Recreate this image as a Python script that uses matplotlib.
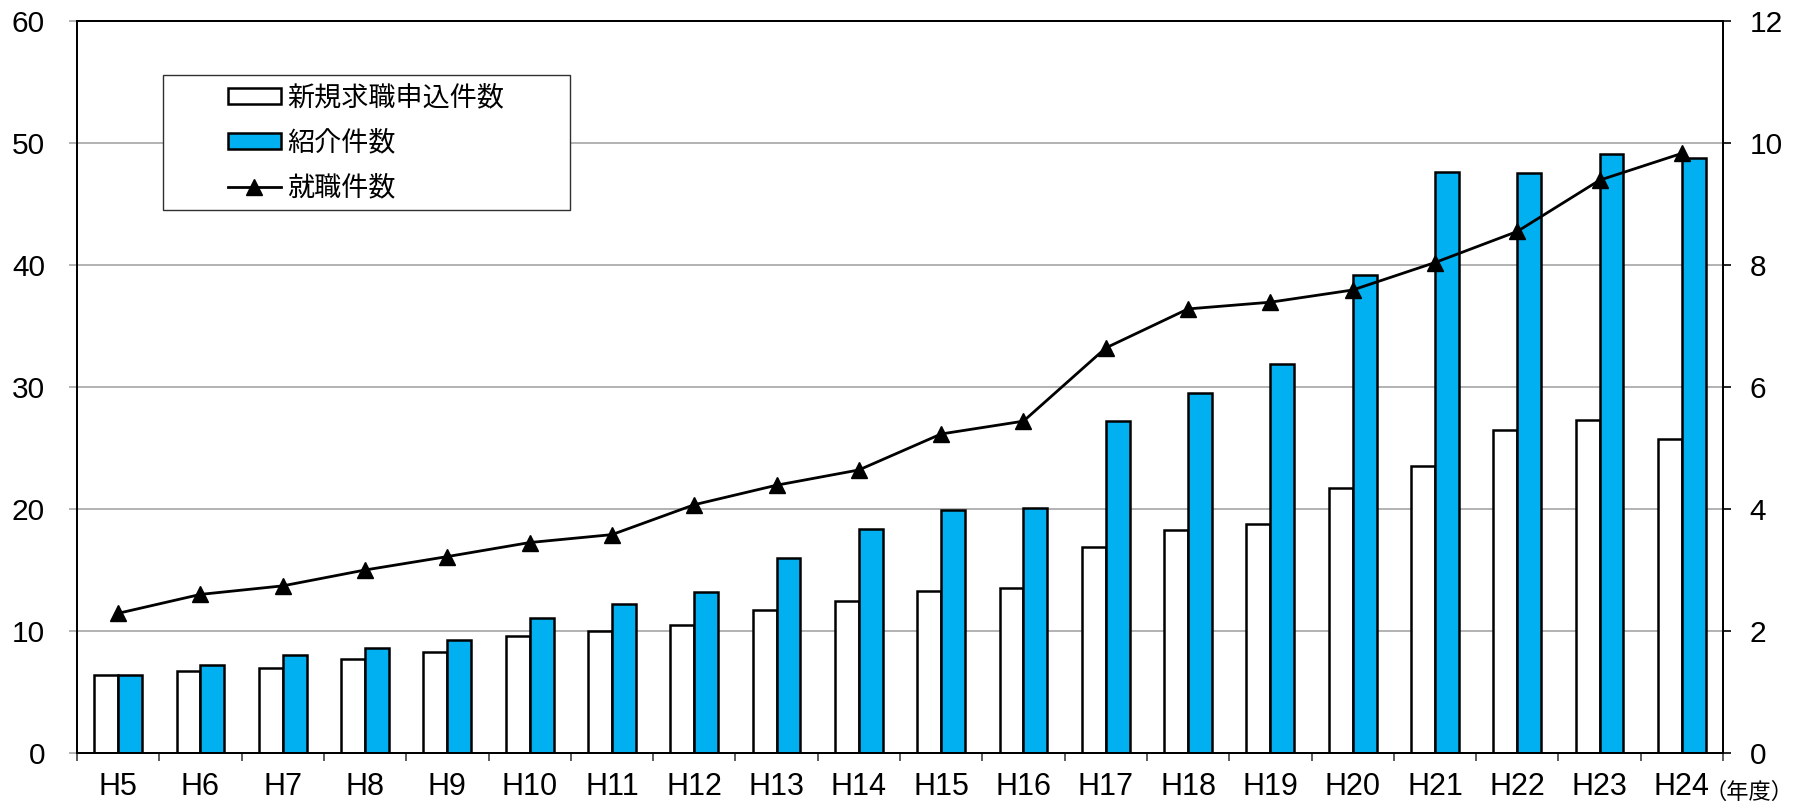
import matplotlib
matplotlib.use('Agg')
import matplotlib.pyplot as plt
from matplotlib.patches import Rectangle, Patch
from matplotlib.lines import Line2D
import numpy as np

plt.rcParams['font.family'] = ['Liberation Sans', 'Noto Sans CJK JP', 'DejaVu Sans']

years = ['H5', 'H6', 'H7', 'H8', 'H9', 'H10', 'H11', 'H12', 'H13', 'H14',
         'H15', 'H16', 'H17', 'H18', 'H19', 'H20', 'H21', 'H22', 'H23', 'H24']
# 新規求職申込件数 / 紹介件数 (left axis)
applications = [6.4, 6.75, 6.95, 7.7, 8.3, 9.6, 10.0, 10.5, 11.7, 12.5,
                13.3, 13.5, 16.9, 18.3, 18.75, 21.75, 23.5, 26.5, 27.3, 25.7]
referrals = [6.4, 7.2, 8.0, 8.6, 9.3, 11.05, 12.2, 13.2, 15.95, 18.4,
             19.9, 20.05, 27.2, 29.5, 31.9, 39.2, 47.6, 47.55, 49.1, 48.75]
# 就職件数 (right axis)
placements = [2.29, 2.6, 2.74, 3.0, 3.22, 3.45, 3.58, 4.07, 4.39, 4.64,
              5.23, 5.44, 6.64, 7.28, 7.39, 7.59, 8.04, 8.55, 9.39, 9.83]

BLUE = '#00B0F0'
W, H = 1793, 809

fig = plt.figure(figsize=(W / 100, H / 100), dpi=100)
ax = fig.add_axes([77 / W, 1 - 753 / H, (1723 - 77) / W, (753 - 21) / H])

x = np.arange(len(years))
bw = 0.29
ax.bar(x - bw / 2, applications, bw, color='white', edgecolor='black', linewidth=1.8)
ax.bar(x + bw / 2, referrals, bw, color=BLUE, edgecolor='black', linewidth=1.8)

ax.set_xlim(-0.5, len(years) - 0.5)
ax.set_ylim(0, 60)
ax.set_yticks(range(0, 61, 10))
ax.set_axisbelow(True)
ax.yaxis.grid(True, color='#a6a6a6', linewidth=1.2)

ax.set_xticks(x)
ax.set_xticklabels(years)
ax.set_xticks(np.arange(-0.5, len(years), 1), minor=True)
ax.tick_params(axis='x', which='major', length=0, pad=14, labelsize=22)
ax.tick_params(axis='x', which='minor', length=6, width=1.2, color='#404040', direction='out')
ax.tick_params(axis='y', length=6, width=1.2, color='#a6a6a6', pad=17, labelsize=21.5)
for s in ax.spines.values():
    s.set_linewidth(1.3)
    s.set_color('black')

ax2 = ax.twinx()
ax2.plot(x, placements, color='black', linewidth=2, marker='^', markersize=11)
ax2.set_ylim(0, 12)
ax2.set_yticks(range(0, 13, 2))
ax2.tick_params(axis='y', length=6, width=1.2, color='black', pad=13, labelsize=21.5)
for s in ax2.spines.values():
    s.set_linewidth(1.3)

# unit label under the right axis
fig.text(1.0, 1 - 792 / H, '（年度）', fontsize=16, va='center', ha='right',
         family=['Noto Sans CJK JP', 'DejaVu Sans'])

# legend box
fig.patches.append(Rectangle((163 / W, 1 - 210 / H), (570 - 163) / W, (210 - 75) / H,
                             transform=fig.transFigure, facecolor='white',
                             edgecolor='#303030', linewidth=1.0, zorder=5))
handles = [Patch(facecolor='white', edgecolor='black', linewidth=1.8),
           Patch(facecolor=BLUE, edgecolor='black', linewidth=1.8),
           Line2D([], [], color='black', linewidth=2, marker='^', markersize=11)]
labels = ['新規求職申込件数', '紹介件数', '就職件数']
leg = fig.legend(handles, labels, loc='center',
                 bbox_to_anchor=(366 / W, 1 - 143 / H), frameon=False,
                 prop={'family': ['Noto Sans CJK JP', 'DejaVu Sans'], 'size': 19.5},
                 handlelength=1.95, handleheight=0.55, handletextpad=0.25,
                 labelspacing=0.66, borderpad=0)
leg.set_zorder(6)

fig.savefig('out.png', dpi=100)
